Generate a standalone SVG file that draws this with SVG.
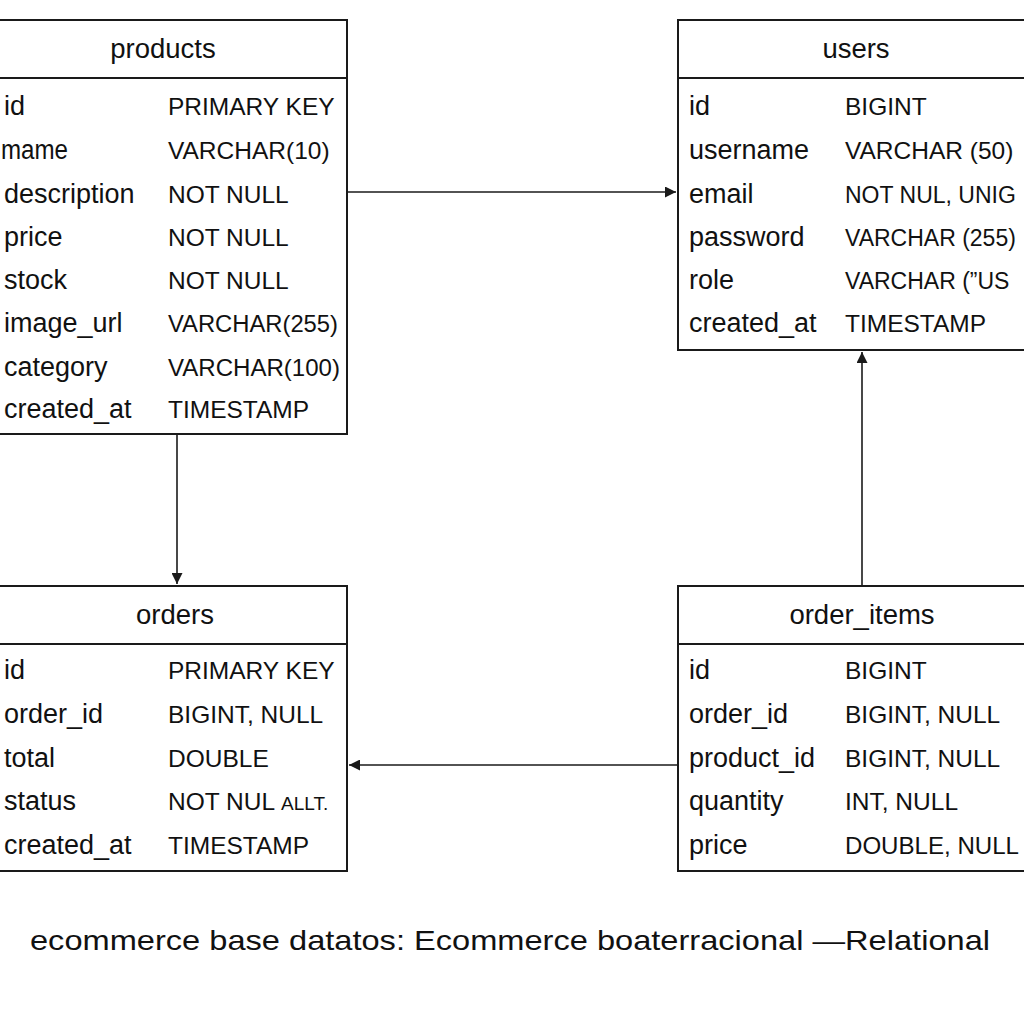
<svg xmlns="http://www.w3.org/2000/svg" width="1024" height="1024" viewBox="0 0 1024 1024">
<defs>
<style>
.box{fill:#fff;stroke:#1a1a1a;stroke-width:2}
.sep{stroke:#1a1a1a;stroke-width:2}
.title{font-family:"Liberation Sans",Arial,sans-serif;font-size:27.5px;fill:#111;text-anchor:middle}
.nm{font-family:"Liberation Sans",Arial,sans-serif;font-size:27px;fill:#111}
.ty{font-family:"Liberation Sans",Arial,sans-serif;font-size:24.5px;fill:#111}
.tys{font-family:"Liberation Sans",Arial,sans-serif;font-size:23px;fill:#111}
.conn{stroke:#1a1a1a;stroke-width:1.6;fill:none;marker-end:url(#arr)}
.cap{font-family:"Liberation Sans",Arial,sans-serif;font-size:28px;fill:#111;text-anchor:middle}
</style>
<marker id="arr" viewBox="0 0 10 10" refX="10" refY="5" markerWidth="12" markerHeight="11" markerUnits="userSpaceOnUse" orient="auto">
<path d="M0,0 L10,5 L0,10 z" fill="#1a1a1a"/>
</marker>
</defs>
<rect width="1024" height="1024" fill="#fff"/>
<g id="connectors">
<line class="conn" x1="347" y1="192" x2="676" y2="192"/>
<line class="conn" x1="177" y1="434" x2="177" y2="584"/>
<line class="conn" x1="862" y1="586" x2="862" y2="352"/>
<line class="conn" x1="678" y1="765" x2="349" y2="765"/>
</g>
<g id="products">
<rect class="box" x="-2" y="20" width="349" height="414"/>
<line class="sep" x1="-2" y1="78" x2="347" y2="78"/>
<text class="title" x="163" y="58">products</text>
<text class="nm" x="4" y="115">id</text><text class="ty" x="168" y="115">PRIMARY KEY</text>
<text class="nm" x="1" y="159" textLength="67" lengthAdjust="spacingAndGlyphs">mame</text><text class="ty" x="168" y="159">VARCHAR(10)</text>
<text class="nm" x="4" y="203">description</text><text class="ty" x="168" y="203">NOT NULL</text>
<text class="nm" x="4" y="246">price</text><text class="ty" x="168" y="246">NOT NULL</text>
<text class="nm" x="4" y="289">stock</text><text class="ty" x="168" y="289">NOT NULL</text>
<text class="nm" x="4" y="332">image_url</text><text class="ty" x="168" y="332" textLength="170" lengthAdjust="spacingAndGlyphs">VARCHAR(255)</text>
<text class="nm" x="4" y="376">category</text><text class="ty" x="168" y="376" textLength="172" lengthAdjust="spacingAndGlyphs">VARCHAR(100)</text>
<text class="nm" x="4" y="418">created_at</text><text class="ty" x="168" y="418">TIMESTAMP</text>
</g>
<g id="users">
<rect class="box" x="678" y="20" width="360" height="330"/>
<line class="sep" x1="678" y1="78" x2="1030" y2="78"/>
<text class="title" x="856" y="58">users</text>
<text class="nm" x="689" y="115">id</text><text class="ty" x="845" y="115">BIGINT</text>
<text class="nm" x="689" y="159">username</text><text class="ty" x="845" y="159">VARCHAR (50)</text>
<text class="nm" x="689" y="203">email</text><text class="tys" x="845" y="203">NOT NUL, UNIG</text>
<text class="nm" x="689" y="246">password</text><text class="tys" x="845" y="246">VARCHAR (255)</text>
<text class="nm" x="689" y="289">role</text><text class="tys" x="845" y="289">VARCHAR (”US</text>
<text class="nm" x="689" y="332">created_at</text><text class="ty" x="845" y="332">TIMESTAMP</text>
</g>
<g id="orders">
<rect class="box" x="-2" y="586" width="349" height="285"/>
<line class="sep" x1="-2" y1="644" x2="347" y2="644"/>
<text class="title" x="175" y="624">orders</text>
<text class="nm" x="4" y="679">id</text><text class="ty" x="168" y="679">PRIMARY KEY</text>
<text class="nm" x="4" y="723">order_id</text><text class="ty" x="168" y="723">BIGINT, NULL</text>
<text class="nm" x="4" y="767">total</text><text class="ty" x="168" y="767">DOUBLE</text>
<text class="nm" x="4" y="810">status</text><text class="ty" x="168" y="810">NOT NUL <tspan font-size="19">ALLT.</tspan></text>
<text class="nm" x="4" y="854">created_at</text><text class="ty" x="168" y="854">TIMESTAMP</text>
</g>
<g id="order_items">
<rect class="box" x="678" y="586" width="360" height="285"/>
<line class="sep" x1="678" y1="644" x2="1030" y2="644"/>
<text class="title" x="862" y="624">order_items</text>
<text class="nm" x="689" y="679">id</text><text class="ty" x="845" y="679">BIGINT</text>
<text class="nm" x="689" y="723">order_id</text><text class="ty" x="845" y="723">BIGINT, NULL</text>
<text class="nm" x="689" y="767">product_id</text><text class="ty" x="845" y="767">BIGINT, NULL</text>
<text class="nm" x="689" y="810">quantity</text><text class="ty" x="845" y="810">INT, NULL</text>
<text class="nm" x="689" y="854">price</text><text class="ty" x="845" y="854" textLength="174" lengthAdjust="spacingAndGlyphs">DOUBLE, NULL</text>
</g>
<text class="cap" x="510" y="950" textLength="960" lengthAdjust="spacingAndGlyphs">ecommerce base datatos: Ecommerce boaterracional —Relational</text>
</svg>
